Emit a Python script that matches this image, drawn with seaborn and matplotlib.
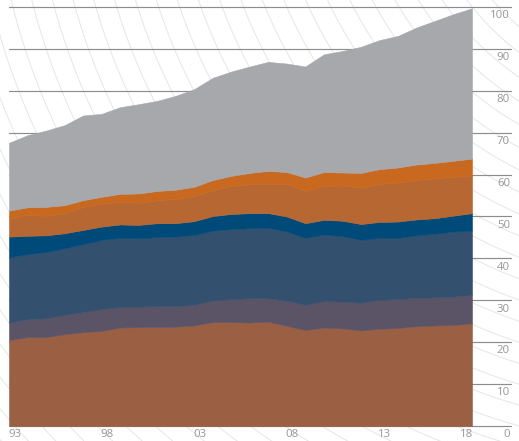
import numpy as np
import pandas as pd

import matplotlib

matplotlib.use("Agg")

import matplotlib.pyplot as plt
import seaborn as sns

# =====================================
# Data
# =====================================

years = list(range(1993, 2019))

brown = [20.5, 21.2, 21.2, 21.9, 22.4, 22.7, 23.5, 23.6, 23.6, 23.7, 24.0, 24.8, 24.8,
         24.7, 24.9, 23.9, 22.9, 23.5, 23.3, 22.8, 23.2, 23.4, 23.8, 24.0, 24.1, 24.5]
purple = [4.2, 4.3, 4.5, 4.6, 4.8, 5.2, 4.9, 4.9, 5.0, 4.9, 4.9, 5.2, 5.5,
          5.8, 5.6, 6.0, 6.0, 6.3, 6.4, 6.6, 6.9, 6.9, 6.8, 6.7, 6.8, 6.8]
slate = [15.6, 15.5, 15.8, 15.9, 16.2, 16.5, 16.5, 16.3, 16.5, 16.6, 16.7, 16.6, 16.7,
         16.7, 16.8, 16.5, 16.0, 15.9, 15.6, 15.0, 14.8, 14.6, 14.9, 15.2, 15.5, 15.3]
navy = [4.9, 4.4, 4.0, 3.6, 3.4, 3.2, 3.2, 3.2, 3.3, 3.2, 3.3, 3.5, 3.6,
        3.6, 3.5, 3.6, 3.5, 3.5, 3.7, 3.8, 3.8, 3.9, 3.8, 3.7, 3.8, 4.2]
rust = [4.3, 5.0, 4.6, 4.8, 5.5, 5.5, 5.4, 5.3, 5.5, 5.8, 6.0, 6.2, 6.7,
        6.9, 7.0, 7.8, 7.7, 8.1, 8.4, 8.7, 9.1, 9.3, 9.4, 9.5, 9.3, 9.0]
orange = [1.9, 1.8, 2.2, 1.9, 1.6, 1.6, 1.9, 2.2, 2.2, 2.2, 2.2, 2.4, 2.4,
          2.7, 3.1, 2.8, 3.2, 3.3, 3.1, 3.5, 3.5, 3.6, 3.7, 3.7, 3.8, 4.0]
gray = [16.2, 17.2, 18.2, 19.1, 20.2, 19.8, 20.7, 21.3, 21.5, 22.4, 23.3, 24.4, 24.9,
        25.4, 26.0, 25.9, 26.5, 28.1, 29.0, 30.1, 30.8, 31.4, 32.7, 33.9, 35.0, 35.9]

layer_colors = ["#9b5f43", "#5b5366", "#34506f", "#004a7a", "#b76832", "#c8691f", "#a7a8ab"]

y_ticks = [0, 10, 20, 30, 40, 50, 60, 70, 80, 90, 100]
x_ticks = [1993, 1998, 2003, 2008, 2013, 2018]
x_labels = ["93", "98", "03", "08", "13", "18"]

df = pd.DataFrame({
    "year": years, "brown": brown, "purple": purple, "slate": slate,
    "navy": navy, "rust": rust, "orange": orange, "gray": gray,
})

# =====================================
# Figure
# =====================================

sns.set_style("white")
plt.rcParams["font.family"] = ["Open Sans", "DejaVu Sans"]

W, H = 519, 441
fig = plt.figure(figsize=(W / 100, H / 100), dpi=100)

# decorative background arcs
bg = fig.add_axes([0, 0, 1, 1])
bg.set_xlim(0, W)
bg.set_ylim(H, 0)
bg.axis("off")
cx, cy = 686, -166
t = np.linspace(0, 2 * np.pi, 720)
for r in np.arange(235, 930, 20):
    bg.plot(cx + r * np.cos(t), cy + r * np.sin(t), color="#e6e6e6", lw=0.7, zorder=0)

left, right = 9 / W, 472 / W
bottom, top = 15 / H, 434 / H
ax = fig.add_axes([left, bottom, right - left, top - bottom])
ax.set_facecolor("none")

ax.set_xlim(1993, 2018)
ax.set_ylim(0, 100)

# grid lines, extending past the plot into the label area
grid_end = (511 - 9) / (472 - 9)
for v in y_ticks:
    ax.axhline(v, xmin=0, xmax=grid_end, color="#8d8d8d", lw=0.85,
               clip_on=False, zorder=1)

cols = ["brown", "purple", "slate", "navy", "rust", "orange", "gray"]
polys = ax.stackplot(df["year"], *[df[c] for c in cols], colors=layer_colors, zorder=2)
for p, c in zip(polys, layer_colors):
    p.set_edgecolor(c)
    p.set_linewidth(0.4)

lab_kw = dict(fontsize=8.2, color="#969696", va="center")

# right-hand value labels, just below each grid line
for v in y_ticks:
    ax.text(1 + (510 - 472) / (472 - 9), v - 2.1, str(v),
            transform=ax.get_yaxis_transform(), ha="right", **lab_kw)

# year labels
for i, (x, lab) in enumerate(zip(x_ticks, x_labels)):
    if i == len(x_ticks) - 1:
        ax.text(x + 0.05, -2.1, lab, ha="right", **lab_kw)
    else:
        ax.text(x + 0.3, -2.1, lab, ha="center", **lab_kw)

ax.set_xticks([])
ax.set_yticks([])
for s in ax.spines.values():
    s.set_visible(False)

plt.savefig("out.png", dpi=100)
plt.close()
